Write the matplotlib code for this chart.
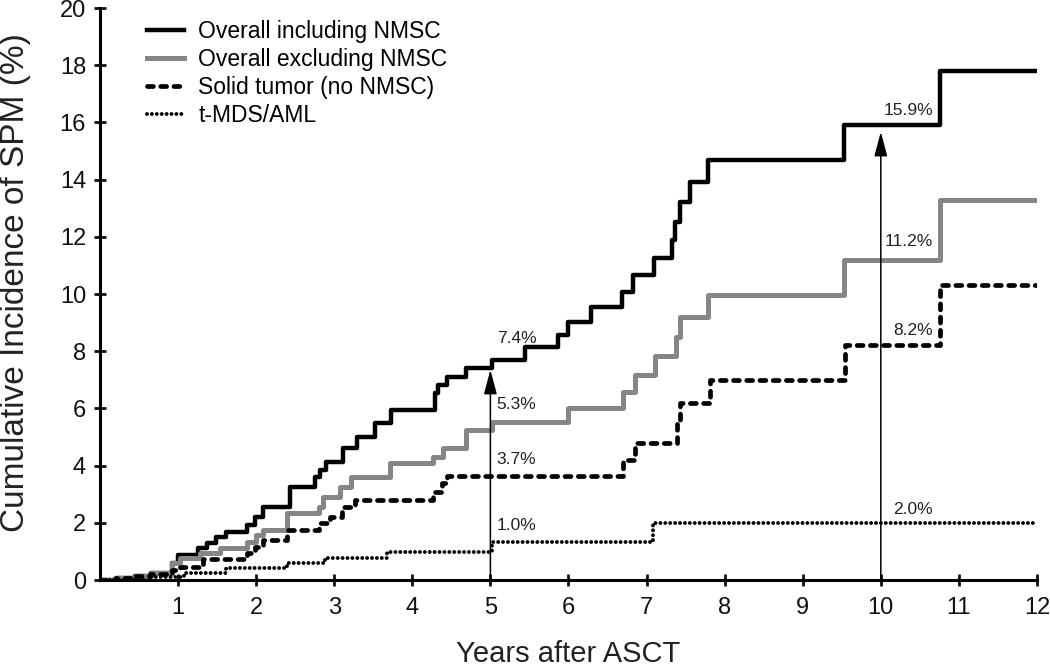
import matplotlib
matplotlib.use("Agg")
import matplotlib.pyplot as plt

plt.rcParams["font.family"] = ["Liberation Sans", "DejaVu Sans"]

# years after ASCT / cumulative incidence (%) — step points
t_incl = [0, 0.2, 0.45, 0.65, 0.92, 1.0, 1.26, 1.37, 1.49, 1.62, 1.88, 1.98, 2.09, 2.43, 2.75, 2.82, 2.90,
          3.11, 3.29, 3.52, 3.73, 4.29, 4.33, 4.44, 4.69, 5.02, 5.44, 5.87, 5.99, 6.29, 6.68, 6.83, 7.09,
          7.32, 7.36, 7.43, 7.55, 7.79, 9.53, 10.76, 12]
v_incl = [0, 0.07, 0.15, 0.23, 0.6, 0.87, 1.12, 1.29, 1.51, 1.69, 1.92, 2.21, 2.56, 3.26, 3.6, 3.85, 4.14,
          4.6, 5.0, 5.48, 5.94, 6.53, 6.82, 7.1, 7.4, 7.7, 8.16, 8.57, 9.03, 9.56, 10.08, 10.66, 11.25,
          11.89, 12.53, 13.23, 13.93, 14.69, 15.9, 17.8, 17.8]

t_excl = [0, 0.2, 0.45, 0.65, 0.92, 1.02, 1.28, 1.54, 1.88, 2.0, 2.09, 2.39, 2.8, 2.86, 3.07, 3.22, 3.71,
          4.27, 4.39, 4.69, 5.02, 5.99, 6.7, 6.85, 7.11, 7.38, 7.43, 7.79, 9.53, 10.76, 12]
v_excl = [0, 0.07, 0.15, 0.23, 0.58, 0.76, 0.93, 1.12, 1.34, 1.57, 1.75, 2.34, 2.56, 2.91, 3.26, 3.61, 4.08,
          4.31, 4.6, 5.24, 5.54, 6.0, 6.58, 7.17, 7.84, 8.5, 9.2, 9.97, 11.2, 13.3, 13.3]

t_solid = [0, 0.2, 0.45, 0.64, 0.92, 1.02, 1.32, 1.88, 1.98, 2.09, 2.39, 2.8, 2.95, 3.1, 3.27, 4.27, 4.38,
           4.44, 6.7, 6.85, 7.39, 7.43, 7.81, 9.54, 10.76, 12]
v_solid = [0, 0.07, 0.15, 0.2, 0.35, 0.47, 0.73, 0.93, 1.17, 1.4, 1.75, 1.99, 2.21, 2.56, 2.8, 3.09, 3.39,
           3.65, 4.2, 4.78, 5.48, 6.18, 7.0, 8.2, 10.3, 10.3]

t_mds = [0, 0.64, 1.07, 1.62, 2.39, 2.88, 3.67, 5.02, 7.08, 12]
v_mds = [0, 0.12, 0.24, 0.41, 0.59, 0.76, 0.99, 1.34, 1.99, 1.99]

labels = ["Overall including NMSC", "Overall excluding NMSC", "Solid tumor (no NMSC)", "t-MDS/AML"]

# estimates at 5 and 10 years
ann_5 = [("7.4%", 8.43), ("5.3%", 6.12), ("3.7%", 4.2), ("1.0%", 1.89)]
ann_10 = [("15.9%", 16.4), ("11.2%", 11.84), ("8.2%", 8.74), ("2.0%", 2.48)]
arrow_tips = [(5, 7.35), (10, 15.67)]

fig = plt.figure(figsize=(10.5, 6.67), dpi=100)
ax = fig.add_axes([0.0952, 0.1304, 0.8924, 0.8576])

ax.step(t_incl, v_incl, where="post", color="black", lw=3.2, label=labels[0])
ax.step(t_excl, v_excl, where="post", color="#868686", lw=3.6, label=labels[1])
ax.step(t_solid, v_solid, where="post", color="black", lw=3.4, linestyle=(0, (1.25, 1.55)),
        dash_capstyle="round", label=labels[2])
ax.step(t_mds, v_mds, where="post", color="black", lw=2.8, linestyle=(0, (0.01, 1.25)),
        dash_capstyle="round", label=labels[3])

for x, y in arrow_tips:
    ax.annotate("", xy=(x, y), xytext=(x, 0),
                arrowprops=dict(arrowstyle="-|>,head_length=0.75,head_width=0.2", color="black",
                                lw=1.1, shrinkA=0, shrinkB=0, mutation_scale=20))

for txt, y in ann_5:
    ax.text(5.08, y, txt, fontsize=12.5, ha="left", va="center", color="#222222")
for txt, y in ann_10:
    ax.text(10.67, y, txt, fontsize=12.5, ha="right", va="center", color="#222222")

ax.set_xlim(0, 12)
ax.set_ylim(0, 20)
ax.set_xticks(range(1, 13))
ax.set_yticks(range(0, 21, 2))
ax.spines[["top", "right"]].set_visible(False)
ax.spines[["left", "bottom"]].set_linewidth(2.2)
ax.tick_params(direction="inout", length=8, width=2, labelsize=17, colors="#111111")
ax.tick_params(axis="x", pad=8)
ax.tick_params(axis="y", pad=6)
ax.set_xlabel("Years after ASCT", fontsize=21, labelpad=15, color="#222222")
ax.set_ylabel("Cumulative Incidence of SPM (%)", fontsize=24, color="#222222")
ax.yaxis.set_label_coords(-0.074, 0.52)

ax.legend(loc="upper left", bbox_to_anchor=(0.04, 0.995), frameon=False, fontsize=16.5,
          handlelength=1.65, handletextpad=0.6, labelspacing=0.22, borderaxespad=0)

plt.savefig("out.png", dpi=100)
